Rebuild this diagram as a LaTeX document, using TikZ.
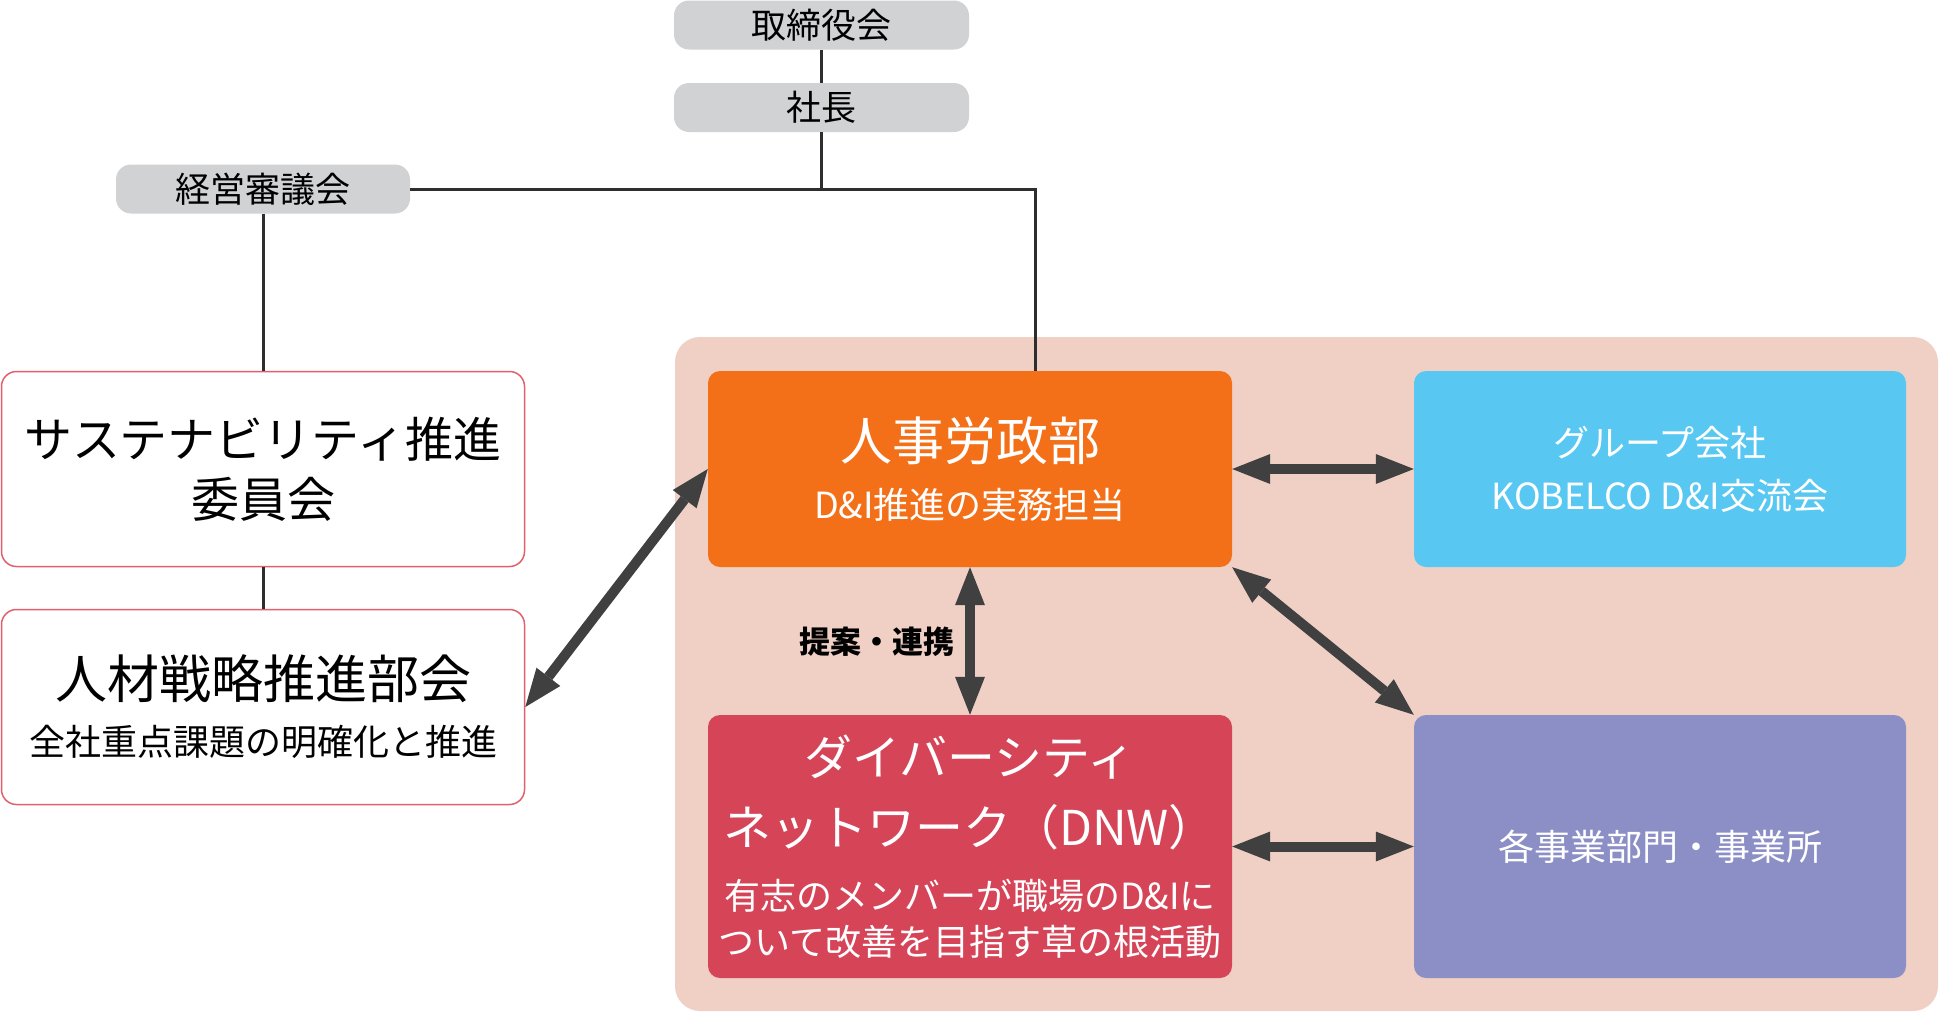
\documentclass[tikz,border=0pt]{standalone}
\usepackage{fontspec}
\setmainfont{Noto Sans CJK JP}
\usetikzlibrary{arrows.meta}

\definecolor{headgray}{HTML}{D1D2D4}
\definecolor{bgpink}{HTML}{F0D0C5}
\definecolor{hrorange}{HTML}{F37019}
\definecolor{grpblue}{HTML}{58C8F3}
\definecolor{dnwred}{HTML}{D54457}
\definecolor{divpurple}{HTML}{8C8FC6}
\definecolor{frame}{HTML}{E2606C}
\definecolor{arrowgray}{HTML}{404041}
\definecolor{linegray}{HTML}{2E2E2E}

\newcommand{\fsz}[2]{\fontsize{#1}{#2}\selectfont}

\begin{document}
\begin{tikzpicture}[x=1pt,y=-1pt,
	head/.style={fill=headgray, rounded corners=15pt, minimum width=295pt,
		minimum height=49pt, inner sep=0pt, text=black, font=\fsz{35}{42}},
	council/.style={draw=frame, line width=1.5pt, fill=white, rounded corners=15pt,
		minimum width=523pt, minimum height=195pt, inner sep=0pt, align=center},
	unit/.style={rounded corners=12pt, minimum height=196pt, inner sep=0pt,
		align=center, text=white},
	link/.style={draw=linegray, line width=3pt},
	twoway/.style={draw=arrowgray, line width=10pt,
		{Triangle[length=38pt,width=30pt,line width=0pt]}-{Triangle[length=38pt,width=30pt,line width=0pt]}},
]

% frame %{{{2

	\useasboundingbox (0,0) rectangle (1940,1012);

	% ---- pink field behind the working bodies

	\fill[bgpink, rounded corners=25pt] (675,337) rectangle (1938,1011);

% top management %{{{2

	\node[head] (board) at (821.5,25) {取締役会};
	\node[head] (pres) at (821.5,107.5) {社長};
	\node[head, minimum width=294pt] (mgmt) at (263,189) {経営審議会};

% committees %{{{2

	\node[council, font=\fsz{48}{60}] (sust) at (263,469)
		{サステナビリティ推進\\委員会};
	\node[council, font=\fsz{36}{57}] (hrsc) at (263,707)
		{{\fsz{52}{57}人材戦略推進部会}\\全社重点課題の明確化と推進};

% units %{{{2

	\node[unit, fill=hrorange, minimum width=524pt, font=\fsz{36}{58}] (hr) at (970,469)
		{{\fsz{52}{58}人事労政部}\\D\&I推進の実務担当};
	\node[unit, fill=grpblue, minimum width=492pt, font=\fsz{36}{53}] (grp) at (1660,469)
		{グループ会社\\KOBELCO D\&I交流会};
	\node[unit, fill=dnwred, minimum width=524pt, minimum height=263pt,
		font=\fsz{36}{54}] (dnw) at (970,846.5)
		{{\fsz{48}{54}ダイバーシティ}\\[16pt]{\fsz{48}{54}ネットワーク（DNW）}\\[10pt]
		有志のメンバーが職場のD\&Iに\\[-8pt]ついて改善を目指す草の根活動};
	\node[unit, fill=divpurple, minimum width=492pt, minimum height=263pt,
		font=\fsz{36}{44}] (div) at (1660,846.5) {各事業部門・事業所};

% reporting lines %{{{2

	\coordinate (split) at (1035,189);

	\draw[link] (board.south) -- (pres.north);
	\draw[link] (pres.south) -- (pres.south |- split);
	\draw[link] (mgmt.east) -- (split) -- (split |- hr.north);
	\draw[link] (mgmt.south) -- (sust.north);
	\draw[link] (sust.south) -- (hrsc.north);

% cooperation arrows %{{{2

	\draw[twoway] (hrsc.east) -- (hr.west);
	\draw[twoway] (hr.east) -- (grp.west);
	\draw[twoway] (hr.south) -- (dnw.north);
	\draw[twoway] (hr.south east) -- (div.north west);
	\draw[twoway] (dnw.east) -- (div.west);

	% ---- label of the vertical arrow

	\node[font=\fsz{31}{36}\bfseries] (coop) at (877,642) {提案・連携};

% closing %{{{2

\end{tikzpicture}
\end{document}
